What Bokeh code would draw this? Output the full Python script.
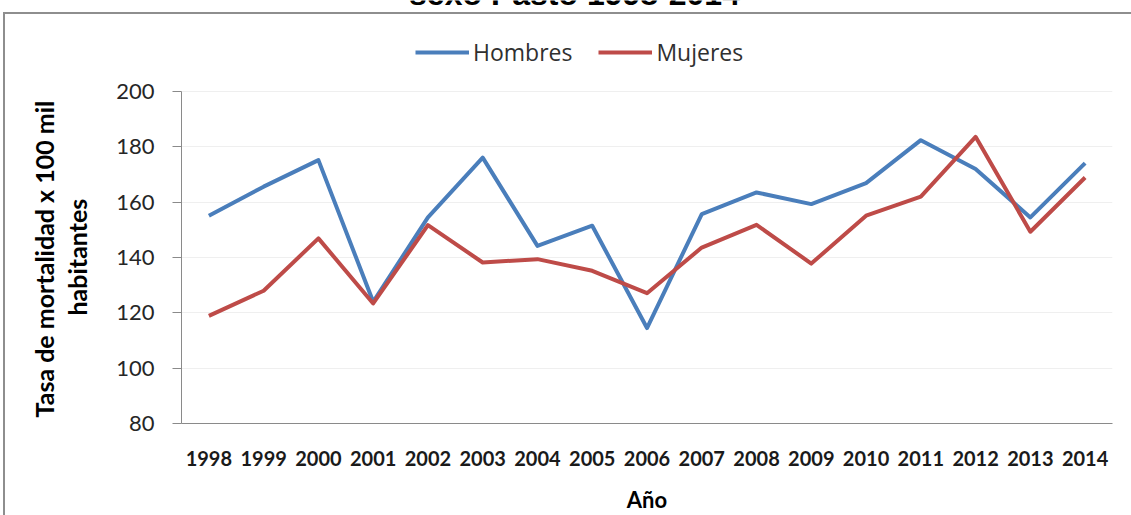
from bokeh.plotting import figure
from bokeh.models import (FactorRange, Range1d, FixedTicker, Legend, LegendItem, Label, Title)
from bokeh.embed import file_html
from bokeh.resources import INLINE

years = ["1998", "1999", "2000", "2001", "2002", "2003", "2004", "2005", "2006",
         "2007", "2008", "2009", "2010", "2011", "2012", "2013", "2014"]
hombres = [155.1, 165.6, 175.2, 124.0, 154.5, 176.1, 144.2, 151.5, 114.5,
           155.7, 163.5, 159.3, 166.9, 182.4, 172.0, 154.5, 174.1]
mujeres = [118.9, 128.0, 146.9, 123.4, 151.7, 138.2, 139.4, 135.2, 127.1,
           143.6, 151.8, 137.8, 155.1, 162.0, 183.6, 149.3, 168.9]
y_ticks = [80, 100, 120, 140, 160, 180, 200]
series_names = ["Hombres", "Mujeres"]
title_text = "sexo Pasto 1998-2014"
y_label_lines = ["Tasa de mortalidad x 100 mil", "habitantes"]
x_label = "Año"

W, H = 1131, 515
FRAME_L = 181
FRAME_H = 423          # frame spans from canvas top to the x axis
PX_PER_UNIT = 332 / 120.0
y_top = 80 + FRAME_H / PX_PER_UNIT   # headroom for legend/title above the 200 line

p = figure(width=W, height=H, x_range=FactorRange(*years), y_range=Range1d(80, y_top),
           output_backend="svg", toolbar_location=None,
           min_border_left=FRAME_L, min_border_right=19, min_border_top=0,
           min_border_bottom=H - FRAME_H)
p.outline_line_color = None
p.background_fill_color = None
p.border_fill_color = None
p.styles = {"background": "linear-gradient(#8e8e8e, #8e8e8e) 3px 12px / 2px 700px no-repeat, "
                          "linear-gradient(#8e8e8e, #8e8e8e) 3px 12px / 1300px 2px no-repeat, #ffffff"}

r1 = p.line(years, hombres, line_color="#4A7EBB", line_width=4, line_join="round")
r2 = p.line(years, mujeres, line_color="#BE4B48", line_width=4, line_join="round")

p.xgrid.grid_line_color = None
p.ygrid.grid_line_color = "#efefef"
p.ygrid.grid_line_width = 1

ya = p.yaxis[0]
ya.ticker = FixedTicker(ticks=y_ticks)
ya.bounds = (80, 200)
ya.axis_line_color = "#8a8a8a"
ya.major_tick_line_color = "#8a8a8a"
ya.major_tick_out = 9
ya.major_tick_in = 0
ya.minor_tick_line_color = None
ya.major_label_text_font = "Lato"
ya.major_label_text_font_size = "22px"
ya.major_label_text_color = "#262626"
ya.major_label_standoff = 18
# blank axis label only reserves room between the tick labels and the y title
ya.axis_label = " "
ya.axis_label_text_font_size = "10px"
ya.axis_label_standoff = 6

xa = p.xaxis[0]
xa.axis_line_color = "#8a8a8a"
xa.major_tick_line_color = None
xa.minor_tick_line_color = None
xa.major_label_text_font = "Lato"
xa.major_label_text_font_style = "bold"
xa.major_label_text_font_size = "20px"
xa.major_label_text_color = "#1a1a1a"
xa.major_label_standoff = 21
xa.axis_label = x_label
xa.axis_label_text_font = "Lato"
xa.axis_label_text_font_style = "bold"
xa.axis_label_text_font_size = "22px"
xa.axis_label_text_color = "black"
xa.axis_label_standoff = 17

# y axis title: two lines as side-panel titles (stacked outward from the axis)
for txt, off in [(y_label_lines[1], 108), (y_label_lines[0], 6)]:
    p.add_layout(Title(text=txt, align="left", vertical_align="middle", offset=off, standoff=1,
                       text_font="Lato", text_font_style="bold", text_font_size="25px",
                       text_color="black"), "left")

legend = Legend(items=[LegendItem(label=series_names[0], renderers=[r1]),
                       LegendItem(label=series_names[1], renderers=[r2])],
                orientation="horizontal", location=(234, 355))
legend.padding = 0
legend.margin = 0
legend.spacing = 26
legend.glyph_width = 54
legend.glyph_height = 24
legend.label_standoff = 4
legend.border_line_color = None
legend.background_fill_alpha = 0
legend.label_text_font = "Open Sans"
legend.label_text_font_size = "23px"
legend.label_text_color = "#303030"
p.add_layout(legend, "center")

title = Label(x=574 - FRAME_L, y=FRAME_H + 7, x_units="screen", y_units="screen", text=title_text,
              text_font="Liberation Sans", text_font_style="bold", text_font_size="32px",
              text_align="center", text_baseline="alphabetic", text_color="black")
p.add_layout(title)

open("out.html", "w").write(file_html(p, INLINE))
